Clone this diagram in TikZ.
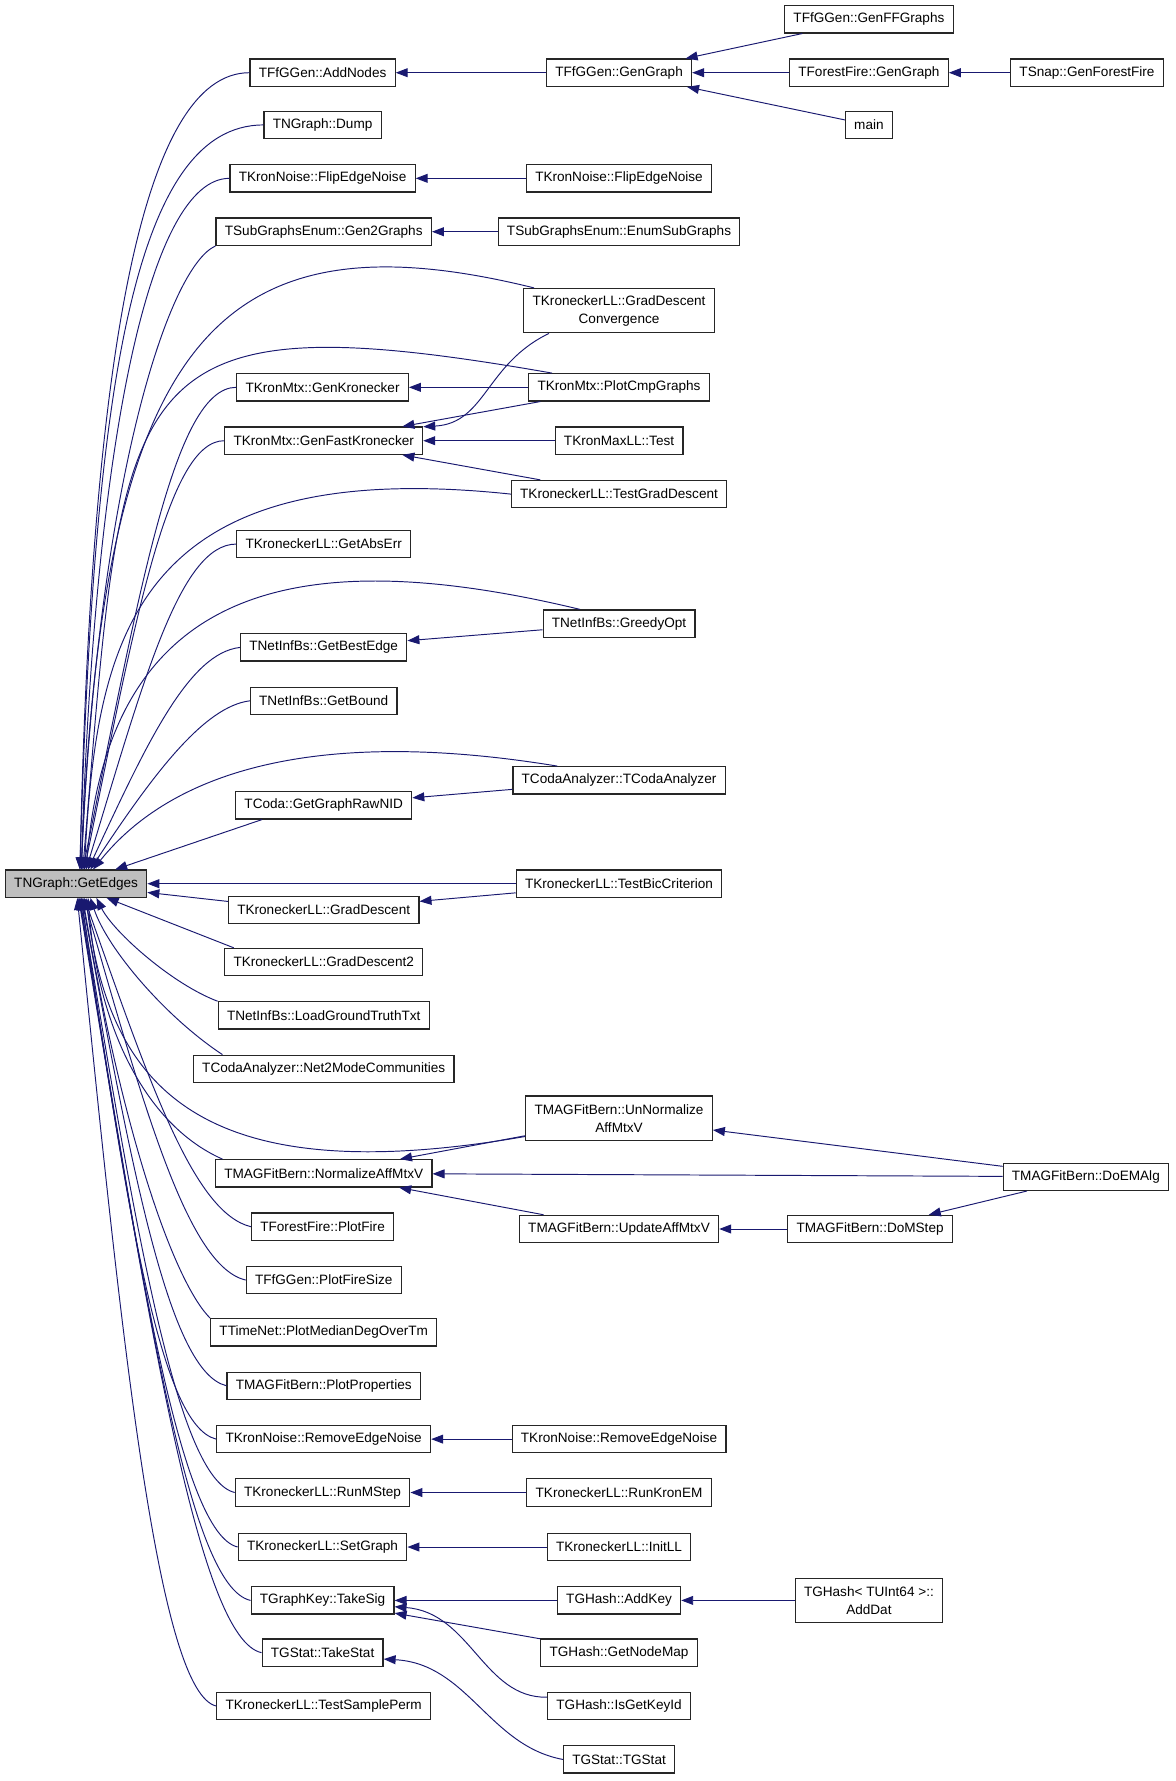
\documentclass[tikz,border=0pt]{standalone}
\usepackage{fontspec}
\setmainfont{Liberation Sans}
\usetikzlibrary{arrows.meta}
\definecolor{callblue}{HTML}{191970}
\definecolor{rootgray}{HTML}{BFBFBF}
\tikzset{
  fn/.style={draw=black!85, line width=0.75pt, fill=white, minimum height=0.6cm, inner xsep=5.5pt, font=\fontsize{8.5}{11.3}\selectfont},
  fntwo/.style={fn, align=center, minimum height=0.975cm},
  call/.style={draw=callblue, line width=0.6pt, -{Triangle[length=7.5pt,width=5.6pt]}}
}
\begin{document}
\begin{tikzpicture}[x=0.025cm, y=-0.025cm]
\useasboundingbox (0,0) rectangle (1035,1568);

\node[fn, fill=rootgray] (ge) at (67,778) {TNGraph::GetEdges};

\node[fn] (an) at (284,64) {TFfGGen::AddNodes};
\node[fn] (dmp) at (284,110) {TNGraph::Dump};
\node[fn] (fen) at (284,157) {TKronNoise::FlipEdgeNoise};
\node[fn] (g2g) at (285,204) {TSubGraphsEnum::Gen2Graphs};
\node[fn] (gk) at (284,341) {TKronMtx::GenKronecker};
\node[fn] (gfk) at (285,388) {TKronMtx::GenFastKronecker};
\node[fn] (gae) at (285,479) {TKroneckerLL::GetAbsErr};
\node[fn] (gbe) at (285,570) {TNetInfBs::GetBestEdge};
\node[fn] (gb) at (285,617) {TNetInfBs::GetBound};
\node[fn] (grn) at (285,709) {TCoda::GetGraphRawNID};
\node[fn] (gd) at (285,801) {TKroneckerLL::GradDescent};
\node[fn] (gd2) at (285,847) {TKroneckerLL::GradDescent2};
\node[fn] (lgt) at (285,894) {TNetInfBs::LoadGroundTruthTxt};
\node[fn] (n2m) at (285,941) {TCodaAnalyzer::Net2ModeCommunities};
\node[fn] (nam) at (285,1033) {TMAGFitBern::NormalizeAffMtxV};
\node[fn] (pf) at (284,1080) {TForestFire::PlotFire};
\node[fn] (pfs) at (285,1127) {TFfGGen::PlotFireSize};
\node[fn] (pmd) at (285,1173) {TTimeNet::PlotMedianDegOverTm};
\node[fn] (pp) at (285,1220) {TMAGFitBern::PlotProperties};
\node[fn] (ren) at (285,1267) {TKronNoise::RemoveEdgeNoise};
\node[fn] (rms) at (284,1314) {TKroneckerLL::RunMStep};
\node[fn] (sg) at (284,1362) {TKroneckerLL::SetGraph};
\node[fn] (tsig) at (284,1409) {TGraphKey::TakeSig};
\node[fn] (tst) at (284,1455) {TGStat::TakeStat};
\node[fn] (tsp) at (285,1502) {TKroneckerLL::TestSamplePerm};

\node[fn] (gg) at (545,64) {TFfGGen::GenGraph};
\node[fn] (fen2) at (545,157) {TKronNoise::FlipEdgeNoise};
\node[fn] (esg) at (545,204) {TSubGraphsEnum::EnumSubGraphs};
\node[fntwo] (gdc) at (545,273.5) {TKroneckerLL::GradDescent\\Convergence};
\node[fn] (pcg) at (545,341) {TKronMtx::PlotCmpGraphs};
\node[fn] (mlt) at (545,388) {TKronMaxLL::Test};
\node[fn] (tgd) at (545,435) {TKroneckerLL::TestGradDescent};
\node[fn] (go) at (545,549) {TNetInfBs::GreedyOpt};
\node[fn] (tca) at (545,687) {TCodaAnalyzer::TCodaAnalyzer};
\node[fn] (tbc) at (545,778) {TKroneckerLL::TestBicCriterion};
\node[fntwo] (unn) at (545,984.5) {TMAGFitBern::UnNormalize\\AffMtxV};
\node[fn] (uam) at (545,1082) {TMAGFitBern::UpdateAffMtxV};
\node[fn] (ren2) at (545,1267) {TKronNoise::RemoveEdgeNoise};
\node[fn] (rke) at (545,1314) {TKroneckerLL::RunKronEM};
\node[fn] (ill) at (545,1362) {TKroneckerLL::InitLL};
\node[fn] (ak) at (545,1409) {TGHash::AddKey};
\node[fn] (gnm) at (545,1455) {TGHash::GetNodeMap};
\node[fn] (igk) at (545,1502) {TGHash::IsGetKeyId};
\node[fn] (tgs) at (545,1549) {TGStat::TGStat};

\node[fn] (gff) at (765,17) {TFfGGen::GenFFGraphs};
\node[fn] (ffg) at (765,64) {TForestFire::GenGraph};
\node[fn] (mn) at (765,110) {main};
\node[fn] (dms) at (766,1082) {TMAGFitBern::DoMStep};
\node[fntwo] (ad) at (765,1409) {TGHash< TUInt64 >::\\AddDat};

\node[fn] (gfw) at (957,64) {TSnap::GenForestFire};
\node[fn] (dem) at (956,1036) {TMAGFitBern::DoEMAlg};

\draw[call] (an.west) .. controls +(-95,0) and +(10,-450) .. (ge.75);
\draw[call] (dmp.west) .. controls +(-115,0) and +(12,-420) .. (ge.75);
\draw[call] (fen.west) .. controls +(-70,0) and +(12,-380) .. (ge.70);
\draw[call] (g2g.south west) .. controls +(-42,19) and +(15,-340) .. (ge.70);
\draw[call] (gdc.165) .. controls +(-280,-69) and +(19,-466) .. (ge.70);
\draw[call] (pcg.168) .. controls +(-389,-68) and +(37,-436) .. (ge.65);
\draw[call] (gk.west) .. controls +(-55,0) and +(50,-243) .. (ge.65);
\draw[call] (gfk.west) .. controls +(-50,0) and +(44,-216) .. (ge.60);
\draw[call] (tgd.west) .. controls +(-331,-35) and +(11,-206) .. (ge.60);
\draw[call] (gae.west) .. controls +(-50,0) and +(50,-164) .. (ge.55);
\draw[call] (go.160) .. controls +(-250,-60) and +(21,-250) .. (ge.55);
\draw[call] (gbe.west) .. controls +(-45,5) and +(52,-112) .. (ge.50);
\draw[call] (gb.west) .. controls +(-40,5) and +(56,-85) .. (ge.45);
\draw[call] (tca.167) .. controls +(-213,-35) and +(69,-86) .. (ge.40);
\draw[call] (grn.193) -- (ge.20);
\draw[call] (tbc) -- (ge);
\draw[call] (gd.175) -- (ge.-7);
\draw[call] (gd2.171) -- (ge.-25);
\draw[call] (lgt.north west) .. controls +(-40,-15) and +(15,30) .. (ge.-35);
\draw[call] (n2m.172) .. controls +(-50,-33) and +(15,45) .. (ge.-45);
\draw[call] (nam.172) .. controls +(-70,-31) and +(8,109) .. (ge.-50);
\draw[call] (unn.191) .. controls +(-283,49) and +(20,170) .. (ge.-55);
\draw[call] (pf.west) .. controls +(-50,-12) and +(58,165) .. (ge.-60);
\draw[call] (pfs.west) .. controls +(-50,-12) and +(55,192) .. (ge.-62);
\draw[call] (pmd.north west) .. controls +(-30,-30) and +(37,218) .. (ge.-65);
\draw[call] (pp.west) .. controls +(-50,-12) and +(45,245) .. (ge.-68);
\draw[call] (ren.west) .. controls +(-50,-12) and +(40,272) .. (ge.-70);
\draw[call] (rms.west) .. controls +(-50,-12) and +(49,299) .. (ge.-72);
\draw[call] (sg.west) .. controls +(-50,-12) and +(51,326) .. (ge.-75);
\draw[call] (tsig.west) .. controls +(-55,-12) and +(58,353) .. (ge.-78);
\draw[call] (tst.west) .. controls +(-55,-12) and +(62,379) .. (ge.-80);
\draw[call] (tsp.west) .. controls +(-50,-12) and +(40,406) .. (ge.-85);

\draw[call] (gg) -- (an);
\draw[call] (gff) -- (gg);
\draw[call] (ffg) -- (gg);
\draw[call] (mn) -- (gg);
\draw[call] (gfw) -- (ffg);
\draw[call] (fen2) -- (fen);
\draw[call] (esg) -- (g2g);
\draw[call] (pcg) -- (gk);
\draw[call] (gdc.198) .. controls +(-56,27) and +(55,-3) .. (gfk.8);
\draw[call] (pcg) -- (gfk);
\draw[call] (mlt) -- (gfk);
\draw[call] (tgd) -- (gfk);
\draw[call] (go) -- (gbe);
\draw[call] (tca) -- (grn);
\draw[call] (tbc) -- (gd);
\draw[call] (unn) -- (nam);
\draw[call] (dem) -- (nam);
\draw[call] (uam) -- (nam);
\draw[call] (dem) -- (unn);
\draw[call] (dms) -- (uam);
\draw[call] (dem) -- (dms);
\draw[call] (ren2) -- (ren);
\draw[call] (rke) -- (rms);
\draw[call] (ill) -- (sg);
\draw[call] (ak) -- (tsig);
\draw[call] (ad) -- (ak);
\draw[call] (gnm) -- (tsig);
\draw[call] (igk.173) .. controls +(-56,1) and +(67,5) .. (tsig.-5);
\draw[call] (tgs.west) .. controls +(-65,-12) and +(74,4) .. (tst.-6);
\end{tikzpicture}
\end{document}
